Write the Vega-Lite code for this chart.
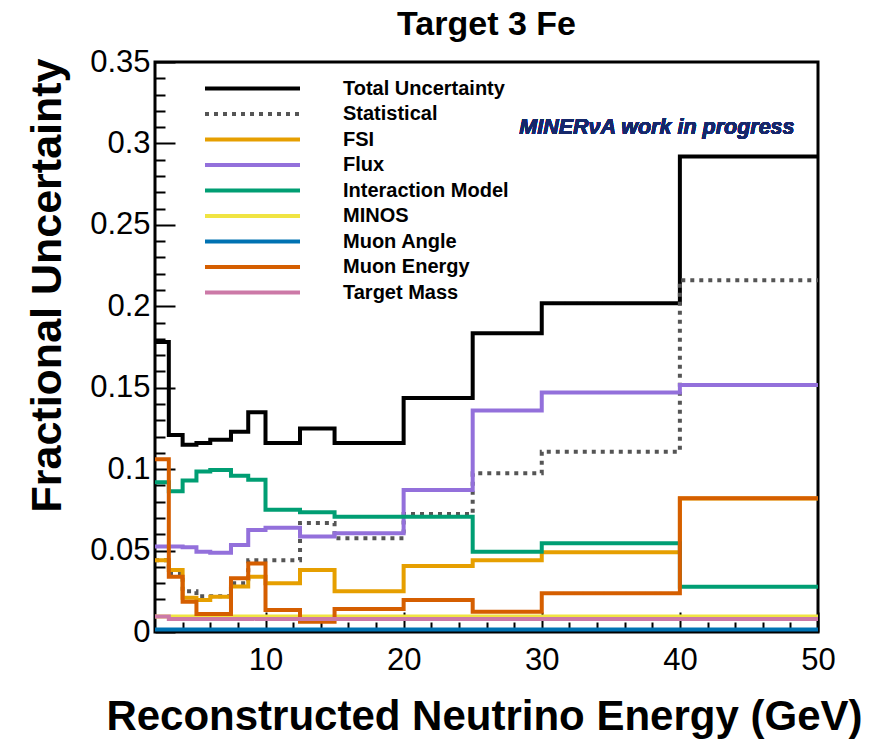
{
  "$schema": "https://vega.github.io/schema/vega-lite/v6.json",
  "autosize": "none",
  "width": 663,
  "height": 570,
  "padding": {"left": 155, "top": 62, "right": 56, "bottom": 108},
  "background": "white",
  "title": {"text": "Target 3 Fe", "font": "Liberation Sans", "fontSize": 34, "fontWeight": "bold", "color": "black", "anchor": "middle", "frame": "group", "offset": 4},
  "config": {
    "view": {"stroke": "black", "strokeWidth": 3},
    "axis": {"grid": false, "domain": false, "tickColor": "black", "tickWidth": 2, "labelColor": "black", "titleColor": "black"}
  },
  "data": {"values": [
    {"lo": 2, "hi": 3, "Total Uncertainty": 0.178, "Statistical": 0.044, "FSI": 0.044, "Flux": 0.0525, "Interaction Model": 0.092, "MINOS": 0.0095, "Muon Angle": 0.0015, "Muon Energy": 0.106, "Target Mass": 0.0095},
    {"lo": 3, "hi": 4, "Total Uncertainty": 0.121, "Statistical": 0.036, "FSI": 0.038, "Flux": 0.0525, "Interaction Model": 0.0865, "MINOS": 0.0095, "Muon Angle": 0.0015, "Muon Energy": 0.034, "Target Mass": 0.008},
    {"lo": 4, "hi": 5, "Total Uncertainty": 0.115, "Statistical": 0.025, "FSI": 0.021, "Flux": 0.052, "Interaction Model": 0.093, "MINOS": 0.0095, "Muon Angle": 0.0015, "Muon Energy": 0.0186, "Target Mass": 0.008},
    {"lo": 5, "hi": 6, "Total Uncertainty": 0.116, "Statistical": 0.022, "FSI": 0.0197, "Flux": 0.0493, "Interaction Model": 0.0985, "MINOS": 0.0095, "Muon Angle": 0.0015, "Muon Energy": 0.011, "Target Mass": 0.008},
    {"lo": 6, "hi": 7.5, "Total Uncertainty": 0.118, "Statistical": 0.022, "FSI": 0.0217, "Flux": 0.0487, "Interaction Model": 0.0995, "MINOS": 0.0095, "Muon Angle": 0.0015, "Muon Energy": 0.011, "Target Mass": 0.008},
    {"lo": 7.5, "hi": 8.75, "Total Uncertainty": 0.123, "Statistical": 0.03, "FSI": 0.028, "Flux": 0.0534, "Interaction Model": 0.096, "MINOS": 0.0095, "Muon Angle": 0.0015, "Muon Energy": 0.033, "Target Mass": 0.008},
    {"lo": 8.75, "hi": 10, "Total Uncertainty": 0.135, "Statistical": 0.044, "FSI": 0.034, "Flux": 0.0626, "Interaction Model": 0.0935, "MINOS": 0.0095, "Muon Angle": 0.0015, "Muon Energy": 0.042, "Target Mass": 0.008},
    {"lo": 10, "hi": 12.5, "Total Uncertainty": 0.116, "Statistical": 0.044, "FSI": 0.03, "Flux": 0.064, "Interaction Model": 0.075, "MINOS": 0.0095, "Muon Angle": 0.0015, "Muon Energy": 0.0135, "Target Mass": 0.008},
    {"lo": 12.5, "hi": 15, "Total Uncertainty": 0.125, "Statistical": 0.067, "FSI": 0.038, "Flux": 0.0586, "Interaction Model": 0.0735, "MINOS": 0.0095, "Muon Angle": 0.0015, "Muon Energy": 0.0063, "Target Mass": 0.008},
    {"lo": 15, "hi": 20, "Total Uncertainty": 0.116, "Statistical": 0.0575, "FSI": 0.025, "Flux": 0.0606, "Interaction Model": 0.0708, "MINOS": 0.0095, "Muon Angle": 0.0015, "Muon Energy": 0.0141, "Target Mass": 0.008},
    {"lo": 20, "hi": 25, "Total Uncertainty": 0.1437, "Statistical": 0.0725, "FSI": 0.0405, "Flux": 0.0872, "Interaction Model": 0.0708, "MINOS": 0.0095, "Muon Angle": 0.0015, "Muon Energy": 0.0197, "Target Mass": 0.008},
    {"lo": 25, "hi": 30, "Total Uncertainty": 0.1834, "Statistical": 0.0975, "FSI": 0.044, "Flux": 0.136, "Interaction Model": 0.0493, "MINOS": 0.0095, "Muon Angle": 0.0015, "Muon Energy": 0.0125, "Target Mass": 0.008},
    {"lo": 30, "hi": 40, "Total Uncertainty": 0.2018, "Statistical": 0.1107, "FSI": 0.049, "Flux": 0.147, "Interaction Model": 0.0545, "MINOS": 0.0095, "Muon Angle": 0.0015, "Muon Energy": 0.0238, "Target Mass": 0.008},
    {"lo": 40, "hi": 50, "Total Uncertainty": 0.2919, "Statistical": 0.216, "FSI": 0.082, "Flux": 0.1517, "Interaction Model": 0.0278, "MINOS": 0.0095, "Muon Angle": 0.0015, "Muon Energy": 0.0821, "Target Mass": 0.008}
  ]},
  "layer": [
    {
      "transform": [
        {"fold": ["Total Uncertainty", "Statistical", "FSI", "Flux", "Interaction Model", "MINOS", "Muon Angle", "Muon Energy", "Target Mass"], "as": ["series", "v"]},
        {"fold": ["lo", "hi"], "as": ["edge", "x"]}
      ],
      "mark": {"type": "line", "strokeWidth": 4, "strokeCap": "butt", "strokeJoin": "miter"},
      "encoding": {
        "x": {"field": "x", "type": "quantitative",
          "scale": {"domain": [2, 50], "nice": false, "zero": false},
          "axis": {
            "title": "Reconstructed Neutrino Energy (GeV)",
            "values": [4, 6, 8, 10, 12, 14, 16, 18, 20, 22, 24, 26, 28, 30, 32, 34, 36, 38, 40, 42, 44, 46, 48, 50],
            "tickCount": 200,
            "tickSize": {"condition": {"test": "datum.value % 10 === 0", "value": -20}, "value": -10},
            "labelExpr": "datum.value % 10 === 0 ? format(datum.value, '~g') : ''",
            "labelFont": "Liberation Sans", "labelFontSize": 31, "labelPadding": 33,
            "labelFlush": false, "labelOverlap": false,
            "titleFont": "Liberation Sans", "titleFontSize": 42, "titleFontWeight": "bold",
            "titleAlign": "right", "titleX": 707, "titleY": 97, "titleBaseline": "alphabetic"
          }
        },
        "y": {"field": "v", "type": "quantitative",
          "scale": {"domain": [0, 0.35], "nice": false},
          "axis": {
            "title": "Fractional Uncertainty",
            "values": [0, 0.01, 0.02, 0.03, 0.04, 0.05, 0.06, 0.07, 0.08, 0.09, 0.1, 0.11, 0.12, 0.13, 0.14, 0.15, 0.16, 0.17, 0.18, 0.19, 0.2, 0.21, 0.22, 0.23, 0.24, 0.25, 0.26, 0.27, 0.28, 0.29, 0.3, 0.31, 0.32, 0.33, 0.34, 0.35],
            "tickCount": 200,
            "tickSize": {"condition": {"test": "round(datum.value * 100) % 5 === 0", "value": -20}, "value": -10},
            "labelExpr": "round(datum.value * 100) % 5 === 0 ? format(datum.value, '~g') : ''",
            "labelFont": "Liberation Sans", "labelFontSize": 31, "labelPadding": 25,
            "labelFlush": false, "labelOverlap": false,
            "titleFont": "Liberation Sans", "titleFontSize": 43, "titleFontWeight": "bold",
            "titleAngle": -90, "titleAlign": "right", "titleX": -95, "titleY": -4, "titleBaseline": "alphabetic"
          }
        },
        "color": {"field": "series", "type": "nominal",
          "scale": {
            "domain": ["Total Uncertainty", "Statistical", "FSI", "Flux", "Interaction Model", "MINOS", "Muon Angle", "Muon Energy", "Target Mass"],
            "range": ["#000000", "#555555", "#E69F00", "#9370DB", "#009E73", "#F0E442", "#0072B2", "#D55E00", "#CC79A7"]
          },
          "legend": {
            "orient": "none", "legendX": 86, "legendY": 15, "title": null,
            "symbolType": "M-5,0H5", "symbolSize": 361, "symbolStrokeWidth": 4,
            "labelFont": "Liberation Sans", "labelFontSize": 20, "labelFontWeight": "bold", "labelColor": "black",
            "labelOffset": 79, "rowPadding": 3.5, "padding": 0, "labelLimit": 400
          }
        },
        "strokeDash": {"field": "series", "type": "nominal",
          "scale": {
            "domain": ["Total Uncertainty", "Statistical", "FSI", "Flux", "Interaction Model", "MINOS", "Muon Angle", "Muon Energy", "Target Mass"],
            "range": [[1, 0], [4, 5], [1, 0], [1, 0], [1, 0], [1, 0], [1, 0], [1, 0], [1, 0]]
          },
          "legend": null
        },
        "order": [{"field": "x", "type": "quantitative"}, {"field": "edge", "type": "nominal"}]
      }
    },
    {
      "mark": {"type": "text", "text": "MINERνA work in progress", "font": "Liberation Sans", "fontSize": 21.5, "fontWeight": "bold", "fontStyle": "italic", "color": "#16286B", "align": "right", "baseline": "alphabetic"},
      "encoding": {"x": {"datum": 48.3}, "y": {"datum": 0.3058}}
    }
  ]
}
